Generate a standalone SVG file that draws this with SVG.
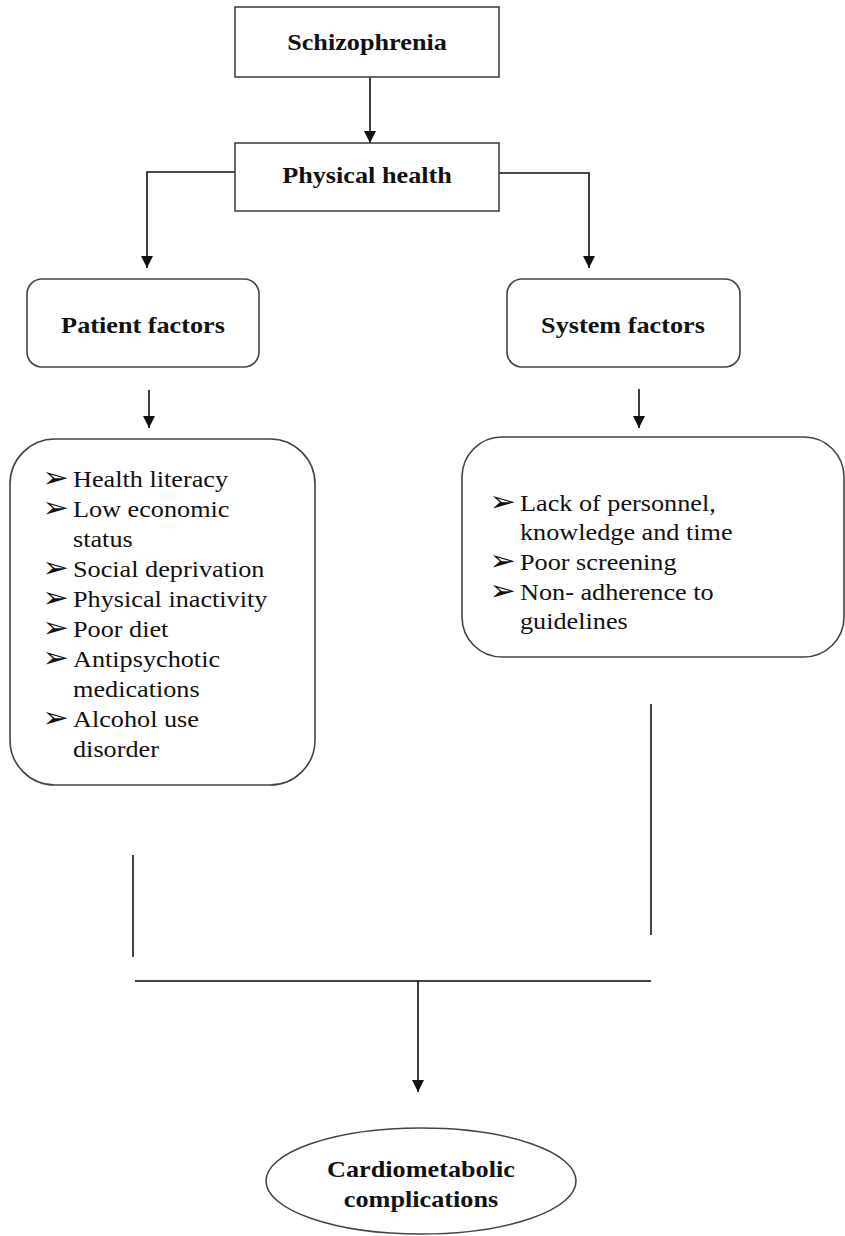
<svg xmlns="http://www.w3.org/2000/svg" width="845" height="1236" viewBox="0 0 845 1236">
<style>
.box{fill:#fff;stroke:#444;stroke-width:1.6}
.ln{fill:none;stroke:#111;stroke-width:1.6}
.pl{fill:none;stroke:#444;stroke-width:2}
.b{font-family:"Liberation Serif","Times New Roman",serif;font-weight:bold;font-size:23px;fill:#111}
.t{font-family:"Liberation Serif","Times New Roman",serif;font-size:23px;fill:#111}
.bu{font-family:"DejaVu Sans",sans-serif;font-size:28px;fill:#111}
</style>
<defs>
<marker id="ah" markerUnits="userSpaceOnUse" markerWidth="12" markerHeight="12" refX="12" refY="6" orient="auto">
<path d="M0,0 L12,6 L0,12 z" fill="#111"/>
</marker>
</defs>
<rect width="845" height="1236" fill="#fff"/>
<g id="connectors">
<line class="ln" x1="370" y1="77" x2="370" y2="143" marker-end="url(#ah)"/>
<polyline class="ln" points="235,172 147,172 147,268" marker-end="url(#ah)"/>
<polyline class="ln" points="499,173 589,173 589,268" marker-end="url(#ah)"/>
<line class="ln" x1="149" y1="390" x2="149" y2="428" marker-end="url(#ah)"/>
<line class="ln" x1="639" y1="389" x2="639" y2="428" marker-end="url(#ah)"/>
<line class="pl" x1="133" y1="855" x2="133" y2="957"/>
<line class="pl" x1="651" y1="704" x2="651" y2="935"/>
<line class="pl" x1="135" y1="981" x2="651" y2="981"/>
<line class="ln" x1="418" y1="981" x2="418" y2="1092" marker-end="url(#ah)"/>
</g>
<g id="schizophrenia">
<rect class="box" x="235" y="7" width="264" height="70"/>
<text class="b" text-anchor="middle" transform="translate(367 50) scale(1.14 1)">Schizophrenia</text>
</g>
<g id="physical-health">
<rect class="box" x="235" y="143" width="264" height="68"/>
<text class="b" text-anchor="middle" transform="translate(367 183) scale(1.14 1)">Physical health</text>
</g>
<g id="patient-factors">
<rect class="box" x="27" y="279" width="232" height="88" rx="15"/>
<text class="b" text-anchor="middle" transform="translate(143 333) scale(1.14 1)">Patient factors</text>
</g>
<g id="system-factors">
<rect class="box" x="507" y="279" width="233" height="88" rx="15"/>
<text class="b" text-anchor="middle" transform="translate(623 333) scale(1.14 1)">System factors</text>
</g>
<g id="patient-list">
<rect class="box" x="10" y="439" width="305" height="346" rx="45"/>
<g transform="translate(73 487) scale(1.14 1)">
<text class="bu" x="-27" y="0">➢</text>
<text class="t" x="0" y="0">Health literacy</text>
<text class="bu" x="-27" y="30">➢</text>
<text class="t" x="0" y="30">Low economic</text>
<text class="t" x="0" y="60">status</text>
<text class="bu" x="-27" y="90">➢</text>
<text class="t" x="0" y="90">Social deprivation</text>
<text class="bu" x="-27" y="120">➢</text>
<text class="t" x="0" y="120">Physical inactivity</text>
<text class="bu" x="-27" y="150">➢</text>
<text class="t" x="0" y="150">Poor diet</text>
<text class="bu" x="-27" y="180">➢</text>
<text class="t" x="0" y="180">Antipsychotic</text>
<text class="t" x="0" y="210">medications</text>
<text class="bu" x="-27" y="240">➢</text>
<text class="t" x="0" y="240">Alcohol use</text>
<text class="t" x="0" y="270">disorder</text>
</g>
</g>
<g id="system-list">
<rect class="box" x="462" y="437" width="382" height="220" rx="40"/>
<g transform="translate(520 511) scale(1.14 1)">
<text class="bu" x="-27" y="0">➢</text>
<text class="t" x="0" y="0">Lack of personnel,</text>
<text class="t" x="0" y="29">knowledge and time</text>
<text class="bu" x="-27" y="59">➢</text>
<text class="t" x="0" y="59">Poor screening</text>
<text class="bu" x="-27" y="89">➢</text>
<text class="t" x="0" y="89">Non- adherence to</text>
<text class="t" x="0" y="118">guidelines</text>
</g>
</g>
<g id="cardiometabolic">
<ellipse class="box" cx="421" cy="1181" rx="155" ry="53" stroke-width="1.3"/>
<text class="b" text-anchor="middle" transform="translate(421 1177) scale(1.14 1)">Cardiometabolic</text>
<text class="b" text-anchor="middle" transform="translate(421 1207) scale(1.14 1)">complications</text>
</g>
</svg>
